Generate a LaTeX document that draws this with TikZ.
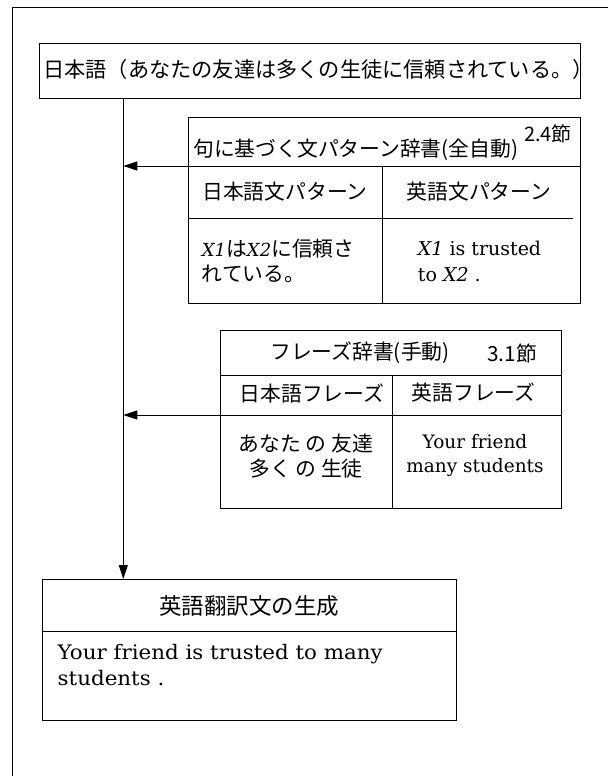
\documentclass[tikz,border=0pt]{standalone}
\usepackage{fontspec}
\newfontfamily\jp{Noto Sans CJK JP}
\newfontfamily\en{DejaVu Serif}
\newfontfamily\enw[FakeStretch=1.07]{DejaVu Serif}
\usetikzlibrary{arrows.meta}
\begin{document}
\begin{tikzpicture}[x=1pt,y=-1pt,
  box/.style={draw,line width=0.9pt,inner sep=0pt,anchor=north west},
  ln/.style={line width=0.9pt},
  arr/.style={line width=0.9pt,-{Triangle[length=14pt,width=9pt]}},
  jt/.style={inner sep=0pt,font=\jp\fontsize{20.8}{25}\selectfont},
  et/.style={inner sep=0pt,font=\en\fontsize{19}{26}\selectfont}]
\useasboundingbox (0,0) rectangle (608,776);
% outer frame
\coordinate (ftr) at (608,7);
\coordinate (ftl) at (12.7,7);
\coordinate (fbl) at (12.7,776);
\draw[ln] (ftr) -- (ftl) -- (fbl);

% box 1
\node[box,minimum width=540.7pt,minimum height=54.4pt] (b1) at (39.3,43.3) {};
\node[jt,anchor=west,font=\jp\fontsize{21.2}{25}\selectfont] (t1) at (43,69) {日本語（あなたの友達は多くの生徒に信頼されている。）};

% box 2
\node[box,minimum width=391.7pt,minimum height=185.4pt] (b2) at (188.3,117.3) {};
\coordinate (b2h) at (188.3,166);
\coordinate (b2hr) at (580,166);
\coordinate (b2r) at (188.3,218.3);
\coordinate (b2rr) at (573,218.3);
\coordinate (b2d) at (382.3,166);
\coordinate (b2db) at (382.3,302.7);
\draw[ln] (b2h) -- (b2hr);
\draw[ln] (b2r) -- (b2rr);
\draw[ln] (b2d) -- (b2db);
\node[jt,anchor=west] (t2h) at (193,150) {句に基づく文パターン辞書(全自動)};
\node[jt,anchor=east,font=\jp\fontsize{20}{22}\selectfont] (t2s) at (572,134) {2.4節};
\node[jt] (t2a) at (285,192) {日本語文パターン};
\node[jt] (t2b) at (479,192) {英語文パターン};
\node[jt,anchor=west,align=left] (t2c) at (201.7,261) {{\en\fontsize{18}{25}\selectfont\itshape X1}は{\en\fontsize{18}{25}\selectfont\itshape X2}に信頼さ\\れている。};
\node[et,anchor=west,align=left] (t2d) at (417.7,261) {\textit{X1} is trusted\\to \textit{X2} .};

% box 3
\node[box,minimum width=341pt,minimum height=178.3pt] (b3) at (220,330) {};
\coordinate (b3h) at (220,375.7);
\coordinate (b3hr) at (561,375.7);
\coordinate (b3r) at (220,415);
\coordinate (b3rr) at (561,415);
\coordinate (b3d) at (392.3,375.7);
\coordinate (b3db) at (392.3,508.3);
\draw[ln] (b3h) -- (b3hr);
\draw[ln] (b3r) -- (b3rr);
\draw[ln] (b3d) -- (b3db);
\node[jt,anchor=west] (t3h) at (270,353) {フレーズ辞書(手動)};
\node[jt,anchor=west] (t3s) at (487,353) {3.1節};
\node[jt] (t3a) at (312,393) {日本語フレーズ};
\node[jt] (t3b) at (473.5,393) {英語フレーズ};
\node[jt,align=center] (t3c) at (306,456) {あなた の 友達\\多く の 生徒};
\node[et,align=center,font=\en\fontsize{18.5}{24}\selectfont] (t3d) at (475,456) {Your friend\\many students};

% box 4
\node[box,minimum width=413.7pt,minimum height=141pt] (b4) at (42.3,579) {};
\coordinate (b4h) at (42.3,631.3);
\coordinate (b4hr) at (456,631.3);
\draw[ln] (b4h) -- (b4hr);
\node[jt,font=\jp\fontsize{22.5}{26}\selectfont] (t4h) at (249,606) {英語翻訳文の生成};
\node[et,anchor=west,align=left,font=\enw\fontsize{20}{26}\selectfont] (t4b) at (57.5,665) {Your friend is trusted to many\\students .};

% connectors
\coordinate (vx) at (123.3,0);
\draw[arr] (b1.south -| vx) -- (b4.north -| vx);
\draw[arr] (b2h) -- (b2h -| vx);
\draw[arr] (b3r) -- (b3r -| vx);
\end{tikzpicture}
\end{document}
